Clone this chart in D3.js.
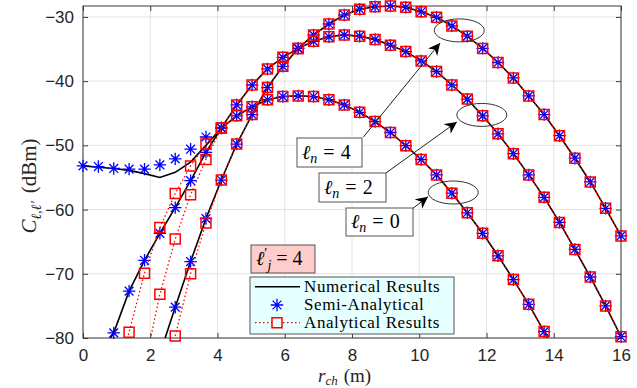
<!DOCTYPE html>
<html>
<head>
<meta charset="utf-8">
<script src="https://cdn.jsdelivr.net/npm/d3@7"></script>
<style>
  body { margin: 0; background: #fff; }
  svg { display: block; }
</style>
</head>
<body>
<script>
// sample positions (m)
var rch = [0, 0.457, 0.914, 1.371, 1.829, 2.286, 2.743, 3.2, 3.657, 4.114, 4.571, 5.029,
           5.486, 5.943, 6.4, 6.857, 7.314, 7.771, 8.229, 8.686, 9.143, 9.6, 10.057, 10.514,
           10.971, 11.429, 11.886, 12.343, 12.8, 13.257, 13.714, 14.171, 14.629, 15.086, 15.543, 16];

// numerical results (dBm), one per l_n
var numL0 = [-53.2, -53.4, -53.6, -53.9, -54.4, -55.0, -54.2, -52.6, -50.0, -47.3, -45.4, -44.0,
             -42.9, -42.4, -42.3, -42.4, -42.9, -43.7, -44.85, -46.3, -48.0, -50.05, -52.2, -54.6,
             -57.45, -60.5, -63.7, -67.2, -70.9, -74.75, -79.0, -83.5, null, null, null, null];
var numL2 = [null, -83.0, -79.2, -72.7, -67.9, -63.7, -59.7, -55.5, -51.1, -47.3, -43.7, -40.6,
             -38.1, -36.3, -34.9, -33.8, -33.1, -32.8, -33.0, -33.5, -34.4, -35.4, -36.85, -38.5,
             -40.6, -42.8, -45.4, -48.2, -51.3, -54.6, -58.1, -62.0, -66.2, -70.5, -75.0, -79.8];
var numL4 = [null, null, null, null, null, -82.5, -75.2, -68.1, -61.4, -55.4, -49.8, -45.2,
             -41.0, -37.7, -34.9, -32.8, -31.1, -29.7, -28.8, -28.4, -28.3, -28.5, -29.2, -30.05,
             -31.4, -33.0, -34.9, -37.1, -39.5, -42.3, -45.2, -48.5, -52.0, -55.7, -59.8, -64.1];

// near-field points where the other two methods differ (first 9 samples)
var semiNearL0 = [-53.2, -53.3, -53.6, -53.7, -53.7, -53.05, -52.1, -50.6, -48.7];
var anaNearL0  = [null, null, null, null, -84.5, -73.2, -64.6, -57.7, -52.2];
var anaNearL2  = [null, null, -86.0, -79.1, -69.9, -62.8, -57.5, -53.2, -49.8];
var anaNearL4  = [null, null, null, null, null, -90.0, -79.7, -70.0, -62.1];

var xTicks = [0, 2, 4, 6, 8, 10, 12, 14, 16];
var yTicks = [-80, -70, -60, -50, -40, -30];

function withNear(near, num) { return near.concat(num.slice(near.length)); }

var numerical = [numL0, numL2, numL4];
var semi = [withNear(semiNearL0, numL0), numL2, numL4];
var analytical = [withNear(anaNearL0, numL0), withNear(anaNearL2, numL2), withNear(anaNearL4, numL4)];

var width = 637, height = 388;
var margin = {top: 6, right: 16, bottom: 50, left: 83};
var x = d3.scaleLinear().domain([0, 16]).range([margin.left, width - margin.right]);
var y = d3.scaleLinear().domain([-80, -28.3]).range([height - margin.bottom, margin.top]);

var svg = d3.select('body').append('svg')
  .attr('width', width).attr('height', height);

svg.append('defs').append('clipPath').attr('id', 'plotclip')
  .append('rect')
  .attr('x', x(0)).attr('y', y(-28.3))
  .attr('width', x(16) - x(0)).attr('height', y(-80) - y(-28.3));

svg.append('marker').attr('id', 'arrowhead')
  .attr('viewBox', '0 0 10 10').attr('refX', 10).attr('refY', 5)
  .attr('markerWidth', 12).attr('markerHeight', 12).attr('markerUnits', 'userSpaceOnUse')
  .attr('orient', 'auto')
  .append('path').attr('d', 'M0,0 L10,5 L0,10 L3,5 Z').attr('fill', '#000');

// grid
var grid = svg.append('g').attr('stroke', '#e3e3e3').attr('stroke-width', 1);
grid.selectAll('.gx').data(xTicks).enter().append('line')
  .attr('x1', d => x(d)).attr('x2', d => x(d))
  .attr('y1', y(-80)).attr('y2', y(-28.3));
grid.selectAll('.gy').data(yTicks).enter().append('line')
  .attr('x1', x(0)).attr('x2', x(16))
  .attr('y1', d => y(d)).attr('y2', d => y(d));

// axes
var axisColor = '#3a3a3a';
function styleAxis(g, labels) {
  g.select('.domain').remove();
  g.selectAll('.tick line').attr('stroke', axisColor);
  g.selectAll('.tick text')
    .attr('fill', '#262626')
    .style('font-family', '"Liberation Sans", Arial, sans-serif')
    .style('font-size', '17px');
  if (!labels) g.selectAll('.tick text').remove();
}
svg.append('g').attr('transform', 'translate(0,' + y(-80) + ')')
  .call(d3.axisBottom(x).tickValues(xTicks).tickSizeInner(-5).tickSizeOuter(0).tickPadding(11))
  .call(g => styleAxis(g, true));
svg.append('g').attr('transform', 'translate(0,' + y(-28.3) + ')')
  .call(d3.axisTop(x).tickValues(xTicks).tickSizeInner(-5).tickSizeOuter(0))
  .call(g => styleAxis(g, false));
svg.append('g').attr('transform', 'translate(' + x(0) + ',0)')
  .call(d3.axisLeft(y).tickValues(yTicks).tickSizeInner(-5).tickSizeOuter(0).tickPadding(9))
  .call(g => styleAxis(g, true));
svg.append('g').attr('transform', 'translate(' + x(16) + ',0)')
  .call(d3.axisRight(y).tickValues(yTicks).tickSizeInner(-5).tickSizeOuter(0))
  .call(g => styleAxis(g, false));

svg.append('rect')
  .attr('x', x(0)).attr('y', y(-28.3))
  .attr('width', x(16) - x(0)).attr('height', y(-80) - y(-28.3))
  .attr('fill', 'none').attr('stroke', axisColor).attr('stroke-width', 1);

// series
var line = d3.line()
  .defined(d => d[1] != null)
  .x(d => x(d[0])).y(d => y(d[1]));

function pairs(vals) { return rch.map((r, i) => [r, vals[i]]); }
function visible(vals) { return pairs(vals).filter(d => d[1] != null && d[1] >= -80); }

var starR = 6.2, a = starR * 0.7071;
var starPath = 'M' + (-starR) + ',0H' + starR + 'M0,' + (-starR) + 'V' + starR +
  'M' + (-a) + ',' + (-a) + 'L' + a + ',' + a + 'M' + (-a) + ',' + a + 'L' + a + ',' + (-a);
var sq = 5;
var squarePath = 'M' + (-sq) + ',' + (-sq) + 'H' + sq + 'V' + sq + 'H' + (-sq) + 'Z';

var plot = svg.append('g');
var lines = plot.append('g').attr('clip-path', 'url(#plotclip)');

numerical.forEach(function(s) {
  lines.append('path').datum(pairs(s)).attr('d', line)
    .attr('fill', 'none').attr('stroke', '#000').attr('stroke-width', 1.6);
});

semi.forEach(function(s) {
  plot.append('g').selectAll('path').data(visible(s)).enter().append('path')
    .attr('d', starPath)
    .attr('transform', d => 'translate(' + x(d[0]) + ',' + y(d[1]) + ')')
    .attr('fill', 'none').attr('stroke', '#0000ff').attr('stroke-width', 1.3);
});

var lines2 = plot.append('g').attr('clip-path', 'url(#plotclip)');
analytical.forEach(function(s) {
  lines2.append('path').datum(pairs(s)).attr('d', line)
    .attr('fill', 'none').attr('stroke', '#ff0000').attr('stroke-width', 1.3)
    .attr('stroke-dasharray', '1.5,2.5');
});
analytical.forEach(function(s) {
  plot.append('g').selectAll('path').data(visible(s)).enter().append('path')
    .attr('d', squarePath)
    .attr('transform', d => 'translate(' + x(d[0]) + ',' + y(d[1]) + ')')
    .attr('fill', 'none').attr('stroke', '#ff0000').attr('stroke-width', 1.5);
});

// annotations: ellipses and arrows (data coordinates)
var ellipses = [[11.19, -32.1], [11.86, -45.26], [11.01, -57.34]];
svg.append('g').selectAll('ellipse').data(ellipses).enter().append('ellipse')
  .attr('cx', d => x(d[0])).attr('cy', d => y(d[1]))
  .attr('rx', 25).attr('ry', 11.5)
  .attr('fill', 'none').attr('stroke', '#333').attr('stroke-width', 1);

var arrows = [[[8.34, -48.7], [10.62, -34.05]],
              [[9.01, -54.3], [11.12, -46.35]],
              [[9.79, -59.9], [10.26, -58.0]]];
svg.append('g').selectAll('line').data(arrows).enter().append('line')
  .attr('x1', d => x(d[0][0])).attr('y1', d => y(d[0][1]))
  .attr('x2', d => x(d[1][0])).attr('y2', d => y(d[1][1]))
  .attr('stroke', '#222').attr('stroke-width', 1)
  .attr('marker-end', 'url(#arrowhead)');

var serif = '"Liberation Serif", "DejaVu Serif", "Times New Roman", serif';

function lnLabel(bx, by, bw, bh, val) {
  var g = svg.append('g');
  g.append('rect').attr('x', bx).attr('y', by).attr('width', bw).attr('height', bh)
    .attr('fill', '#fff').attr('stroke', '#555').attr('stroke-width', 1);
  var t = g.append('text').attr('x', bx + 5).attr('y', by + bh / 2 + 6)
    .style('font-family', serif).style('font-size', '20px');
  t.append('tspan').style('font-style', 'italic').text('ℓ');
  t.append('tspan').style('font-style', 'italic').style('font-size', '14px').attr('dy', 4).text('n');
  t.append('tspan').attr('dy', -4).attr('dx', 6).text('=');
  t.append('tspan').attr('dx', 6).text(val);
}
lnLabel(297, 138, 65, 29, '4');
lnLabel(319, 173, 67, 29, '2');
lnLabel(346, 208, 67, 28, '0');

// l'_j box
var lj = svg.append('g');
lj.append('rect').attr('x', 251).attr('y', 245).attr('width', 64).attr('height', 28)
  .attr('fill', '#ffcccc').attr('stroke', '#555').attr('stroke-width', 1);
var ljt = lj.append('text').attr('x', 256).attr('y', 265)
  .style('font-family', serif).style('font-size', '20px');
ljt.append('tspan').style('font-style', 'italic').text('ℓ');
ljt.append('tspan').style('font-size', '14px').attr('dy', -7).text('′');
ljt.append('tspan').style('font-style', 'italic').style('font-size', '14px')
  .attr('dy', 12).text('j');
ljt.append('tspan').attr('dy', -5).attr('dx', 5).text('=');
ljt.append('tspan').attr('dx', 5).text('4');

// legend
var legend = svg.append('g');
legend.append('rect').attr('x', 250).attr('y', 277).attr('width', 204).attr('height', 57)
  .attr('fill', '#e6ffff').attr('stroke', '#555').attr('stroke-width', 1);
var legendItems = ['Numerical Results', 'Semi-Analytical', 'Analytical Results'];
var legendY = [286.7, 305, 322.7];
legendItems.forEach(function(name, i) {
  var ly = legendY[i];
  if (i === 0) {
    legend.append('line').attr('x1', 255).attr('x2', 300).attr('y1', ly).attr('y2', ly)
      .attr('stroke', '#000').attr('stroke-width', 1.6);
  } else if (i === 1) {
    legend.append('path').attr('d', starPath).attr('transform', 'translate(277,' + ly + ')')
      .attr('fill', 'none').attr('stroke', '#0000ff').attr('stroke-width', 1.3);
  } else {
    legend.append('line').attr('x1', 255).attr('x2', 300).attr('y1', ly).attr('y2', ly)
      .attr('stroke', '#ff0000').attr('stroke-width', 1.3).attr('stroke-dasharray', '1.5,2.5');
    legend.append('path').attr('d', squarePath).attr('transform', 'translate(277,' + ly + ')')
      .attr('fill', '#e6ffff').attr('stroke', '#ff0000').attr('stroke-width', 1.5);
  }
  legend.append('text').attr('x', 304).attr('y', ly + 5)
    .style('font-family', serif).style('font-size', '17px').style('letter-spacing', '0.6px')
    .attr('fill', '#000').text(name);
});

// axis labels
var xl = svg.append('text').attr('x', 318).attr('y', 382)
  .style('font-family', serif).style('font-size', '19px').attr('fill', '#262626');
xl.append('tspan').style('font-style', 'italic').text('r');
xl.append('tspan').style('font-style', 'italic').style('font-size', '13px').attr('dy', 3).text('ch');
xl.append('tspan').attr('dy', -3).attr('dx', 6).text('(m)');

var yl = svg.append('text').attr('transform', 'translate(36,186) rotate(-90)')
  .attr('text-anchor', 'middle')
  .style('font-family', serif).style('font-size', '21px').attr('fill', '#262626');
yl.append('tspan').style('font-style', 'italic').text('C');
yl.append('tspan').style('font-style', 'italic').style('font-size', '14px').attr('dy', 5).text('ℓ,ℓ′');
yl.append('tspan').attr('dy', -5).attr('dx', 8).text('(dBm)');
</script>
</body>
</html>
